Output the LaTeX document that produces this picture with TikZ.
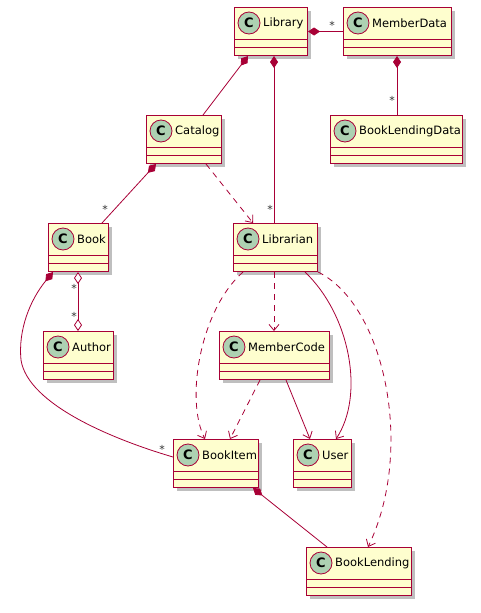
\documentclass[tikz,border=0pt]{standalone}
\usepackage{fontspec}
\setmainfont{DejaVu Sans}
\usetikzlibrary{arrows.meta}
\definecolor{umlred}{HTML}{A80036}
\definecolor{umlfill}{HTML}{FEFECE}
\definecolor{umlcirc}{HTML}{ADD1B2}
\tikzset{
  classbox/.style={rectangle, draw=umlred, fill=umlfill, line width=1pt,
    minimum height=48pt, inner sep=0pt,
    preaction={draw=none, fill=black, opacity=0.25, transform canvas={xshift=3.5pt,yshift=-3.5pt}}},
  classline/.style={draw=umlred, line width=1pt},
  classcirc/.style={circle, draw=umlred, fill=umlcirc, line width=0.8pt,
    minimum size=22pt, inner sep=0pt, font=\fontsize{13}{13}\selectfont\bfseries},
  classtext/.style={anchor=west, inner sep=0pt, font=\fontsize{11.5}{13}\selectfont},
  conn/.style={draw=umlred, line width=0.8pt},
  dep/.style={conn, dash pattern=on 6pt off 5pt, -{Straight Barb[length=6pt,width=10pt]}},
  assoc/.style={conn, -{Straight Barb[length=6pt,width=10pt]}},
  comp/.style={conn, {Diamond[length=12pt,width=8pt,fill=umlred]}-},
  aggr2/.style={conn, {Diamond[length=12pt,width=8pt,open,fill=white]}-{Diamond[length=12pt,width=8pt,open,fill=white]}},
  mult/.style={inner sep=0pt, font=\fontsize{11}{11}\selectfont, text=black!80}
}
\newcommand{\umlclass}[5]{%
  \node[classbox, minimum width=#4pt, anchor=north west] (#1) at (#2,#3) {};
  \draw[classline] ([yshift=-32pt]#1.north west) -- ([yshift=-32pt]#1.north east);
  \draw[classline] ([yshift=-40pt]#1.north west) -- ([yshift=-40pt]#1.north east);
  \node[classcirc] (#1-c) at ([xshift=15pt,yshift=-16pt]#1.north west) {C};
  \node[classtext] (#1-t) at ([xshift=29pt,yshift=-16pt]#1.north west) {#5};
}
\begin{document}
\begin{tikzpicture}[x=1pt,y=-1pt]
\useasboundingbox (0,0) rectangle (480,613);
\umlclass{library}{234}{7}{73}{Library}
\umlclass{memberdata}{343}{7}{108}{MemberData}
\umlclass{catalog}{146}{115}{75}{Catalog}
\umlclass{bld}{330}{115}{132}{BookLendingData}
\umlclass{book}{48}{223}{60}{Book}
\umlclass{librarian}{233}{223}{84}{Librarian}
\umlclass{author}{43}{331}{70}{Author}
\umlclass{membercode}{219}{331}{110}{MemberCode}
\umlclass{bookitem}{173}{439}{85}{BookItem}
\umlclass{user}{293}{439}{58}{User}
\umlclass{booklending}{306}{547}{105}{BookLending}

% compositions
\draw[comp] ([xshift=14pt]library.south west) -- ([xshift=57pt]catalog.north west);
\draw[comp] ([xshift=40pt]library.south west) -- ([xshift=41pt]librarian.north west);
\draw[comp] (library.east) -- (memberdata.west);
\draw[comp] ([xshift=54pt]memberdata.south west) -- ([xshift=67pt]bld.north west);
\draw[comp] ([xshift=10pt]catalog.south west) -- ([xshift=54pt]book.north west);
\draw[comp] ([xshift=5pt]book.south west) .. controls (30,300) and (18,330) .. (21,360)
  .. controls (28,405) and (115,440) .. ([yshift=-18pt]bookitem.north west);
\draw[comp] ([xshift=80pt]bookitem.south west) -- ([xshift=21pt]booklending.north west);
% aggregation
\draw[aggr2] ([xshift=30pt]book.south west) -- ([xshift=35pt]author.north west);
% dependencies
\draw[dep] ([xshift=60pt]catalog.south west) -- ([xshift=20pt]librarian.north west);
\draw[dep] ([xshift=41pt]librarian.south west) -- ([xshift=55pt]membercode.north west);
\draw[dep] ([xshift=10pt]librarian.south west) .. controls (200,310) and (185,400) .. ([xshift=32pt]bookitem.north west);
\draw[dep] (librarian.south east) .. controls (385,305) and (415,450) .. ([xshift=62pt]booklending.north west);
\draw[dep] ([xshift=41pt]membercode.south west) -- ([xshift=57pt]bookitem.north west);
% associations
\draw[assoc] ([xshift=72pt]librarian.south west) .. controls (350,315) and (365,395) .. ([xshift=43pt]user.north west);
\draw[assoc] ([xshift=67pt]membercode.south west) -- ([xshift=17pt]user.north west);

% multiplicities
\node[mult] (m1) at (332,25) {*};
\node[mult] (m2) at (392,100) {*};
\node[mult] (m3) at (270,209) {*};
\node[mult] (m4) at (105,209) {*};
\node[mult] (m5) at (74,288) {*};
\node[mult] (m6) at (74,316) {*};
\node[mult] (m7) at (162,449) {*};
\end{tikzpicture}
\end{document}
